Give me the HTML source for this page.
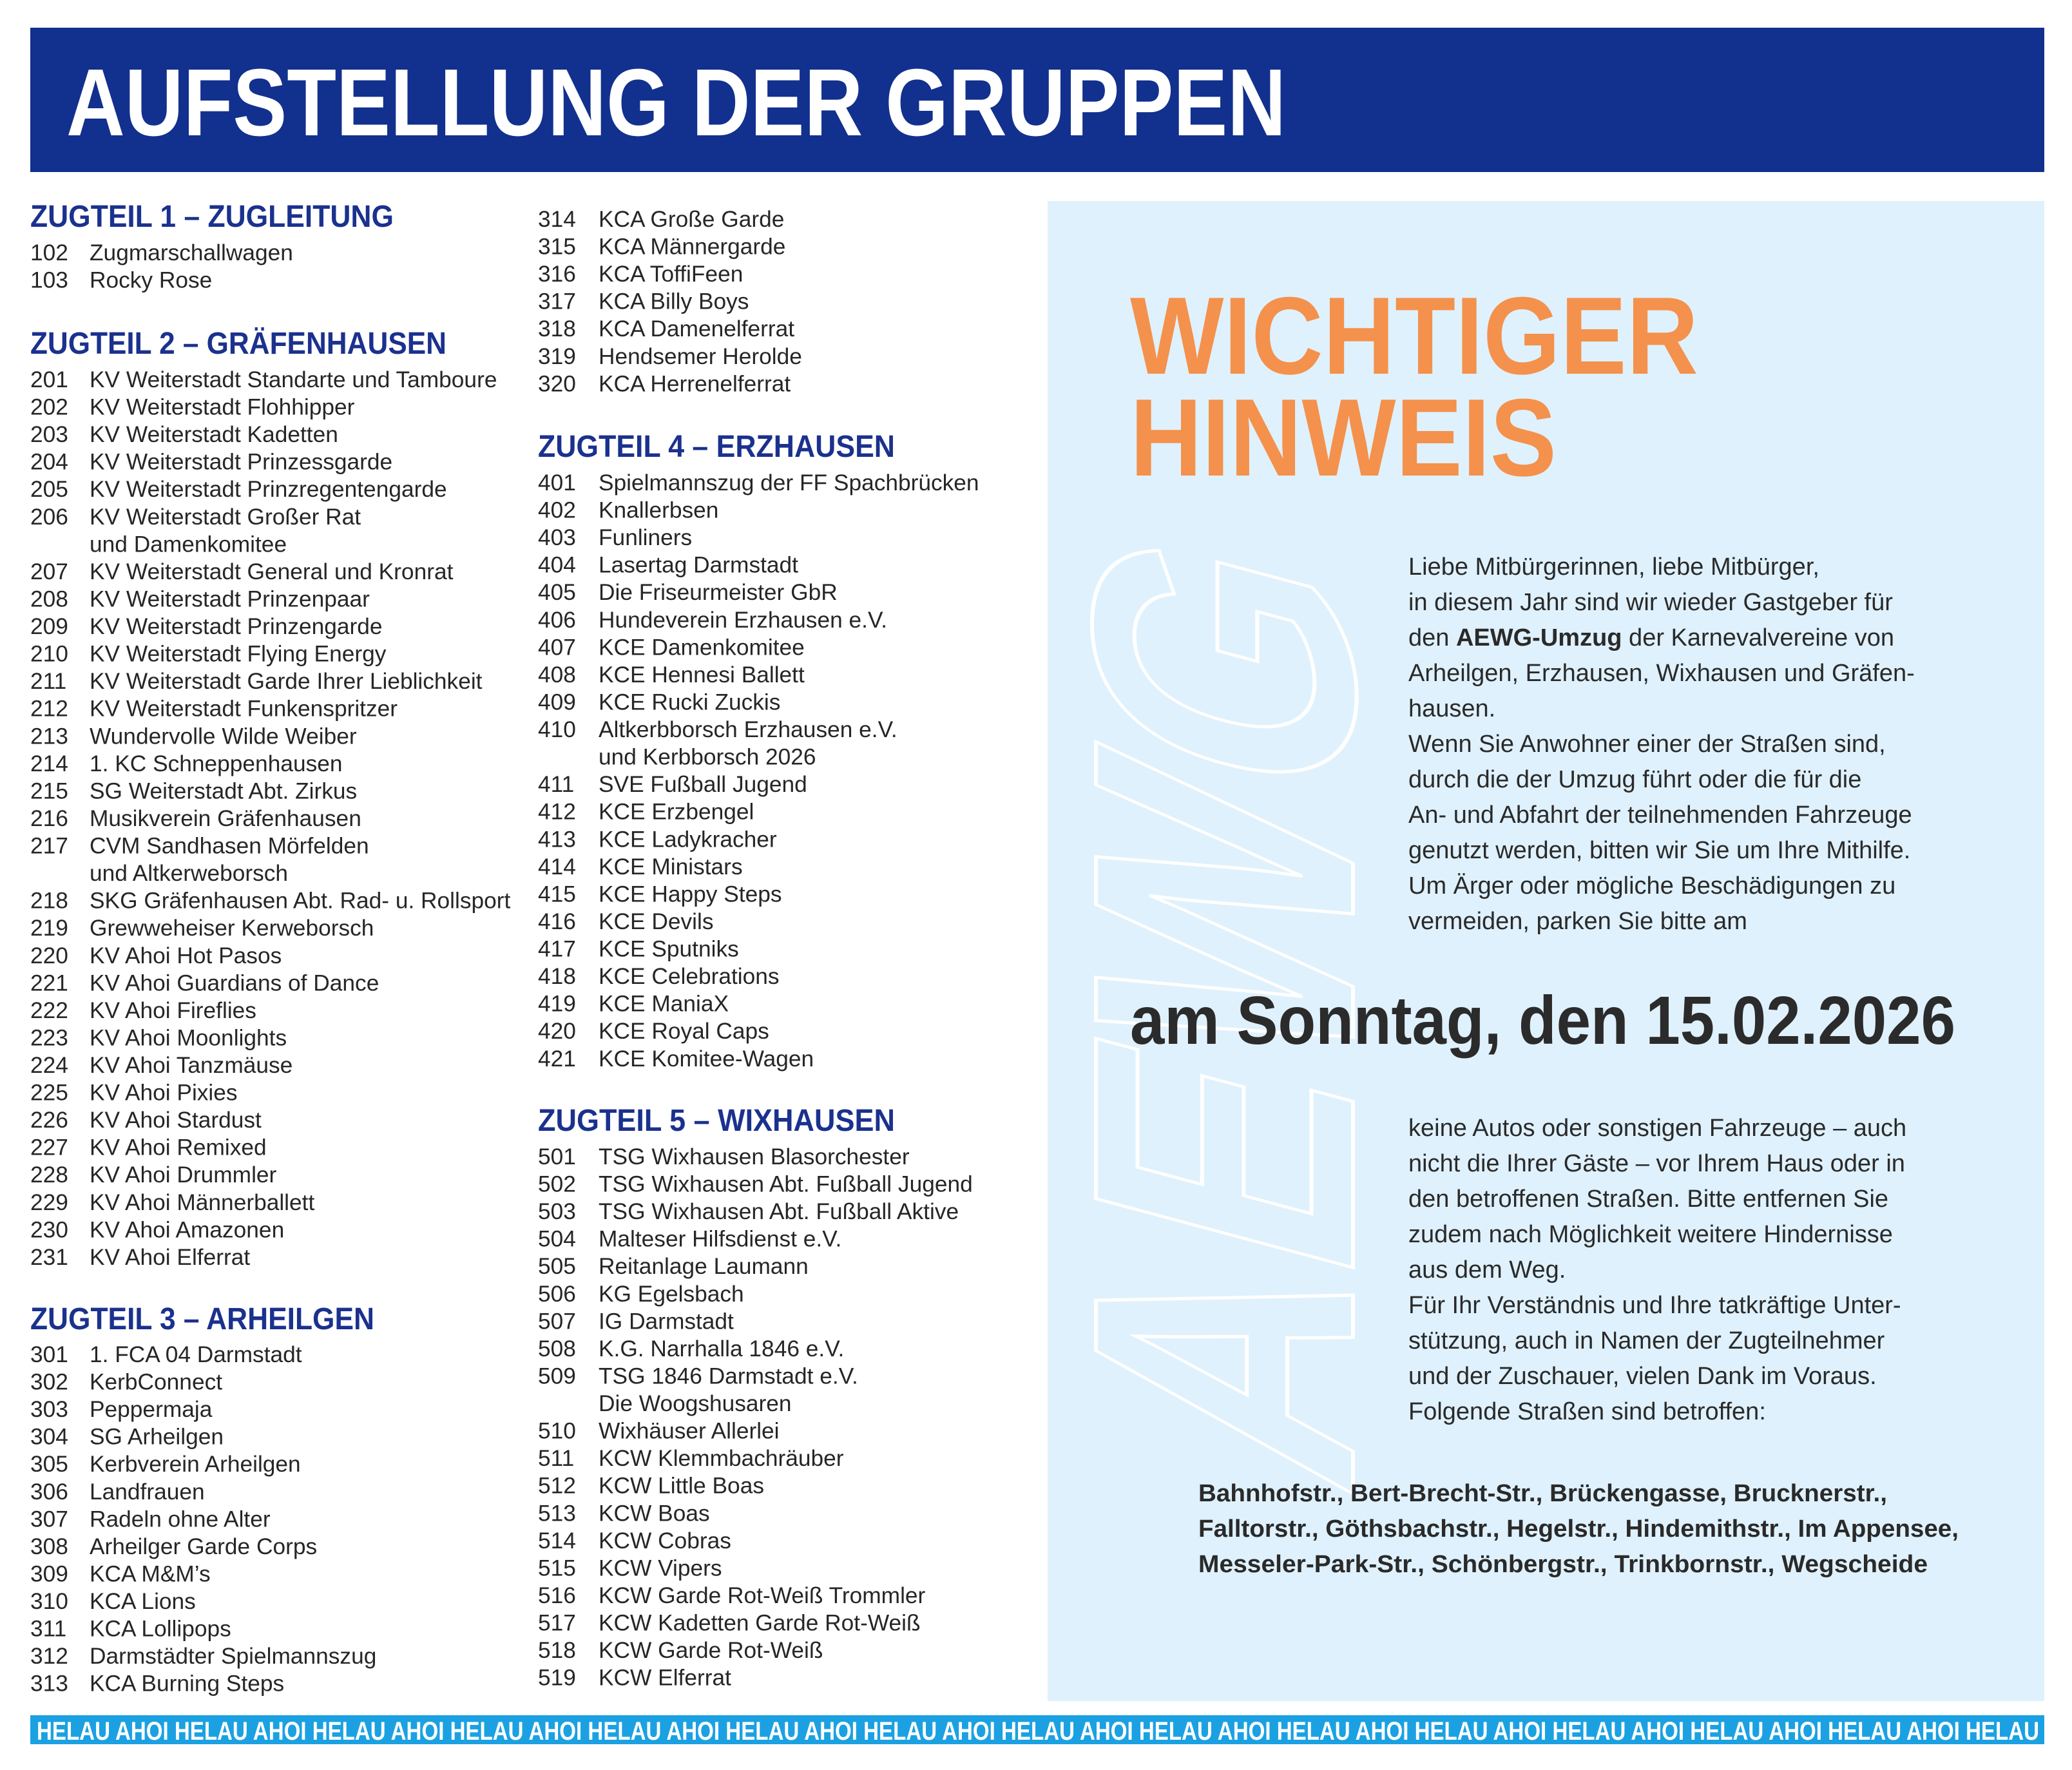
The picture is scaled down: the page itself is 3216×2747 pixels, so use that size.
<!DOCTYPE html>
<html><head><meta charset="utf-8"><style>
html,body{margin:0;padding:0;background:#fff}
svg{display:block}
.n{font-family:"Liberation Sans",sans-serif;font-size:35.3px;fill:#262626}
.h{font-family:"Liberation Sans",sans-serif;font-size:48px;font-weight:bold;fill:#1b318e}
.p{font-family:"Liberation Sans",sans-serif;font-size:38px;fill:#2a2a2a}
</style></head><body>
<svg width="3216" height="2747" viewBox="0 0 3216 2747" xmlns="http://www.w3.org/2000/svg">
<rect width="3216" height="2747" fill="#fff"/>
<rect x="47" y="43" width="3126" height="224" fill="#12308e"/>
<text x="103" y="210" font-family="Liberation Sans,sans-serif" font-weight="bold" font-size="148" fill="#fff" textLength="1893" lengthAdjust="spacingAndGlyphs">AUFSTELLUNG DER GRUPPEN</text>

<!-- Right panel -->
<rect x="1626" y="312" width="1547" height="2328" fill="#dff1fc"/>
<g transform="translate(1895,1560) rotate(-90) skewX(-15)">
<text x="0" y="0" text-anchor="middle" font-family="Liberation Sans,sans-serif" font-weight="bold" font-size="580" fill="none" stroke="#fff" stroke-width="6" textLength="1430" lengthAdjust="spacingAndGlyphs" dy="205">AEWG</text>
</g>
<text x="1754" y="580" font-family="Liberation Sans,sans-serif" font-weight="bold" font-size="171" fill="#f4914c" textLength="882" lengthAdjust="spacingAndGlyphs">WICHTIGER</text>
<text x="1754" y="738" font-family="Liberation Sans,sans-serif" font-weight="bold" font-size="171" fill="#f4914c" textLength="662" lengthAdjust="spacingAndGlyphs">HINWEIS</text>

<text class="p" x="2186" y="892">
<tspan x="2186">Liebe Mitbürgerinnen, liebe Mitbürger,</tspan>
<tspan x="2186" dy="55">in diesem Jahr sind wir wieder Gastgeber für</tspan>
<tspan x="2186" dy="55">den <tspan font-weight="bold">AEWG-Umzug</tspan> der Karnevalvereine von</tspan>
<tspan x="2186" dy="55">Arheilgen, Erzhausen, Wixhausen und Gräfen-</tspan>
<tspan x="2186" dy="55">hausen.</tspan>
<tspan x="2186" dy="55">Wenn Sie Anwohner einer der Straßen sind,</tspan>
<tspan x="2186" dy="55">durch die der Umzug führt oder die für die</tspan>
<tspan x="2186" dy="55">An- und Abfahrt der teilnehmenden Fahrzeuge</tspan>
<tspan x="2186" dy="55">genutzt werden, bitten wir Sie um Ihre Mithilfe.</tspan>
<tspan x="2186" dy="55">Um Ärger oder mögliche Beschädigungen zu</tspan>
<tspan x="2186" dy="55">vermeiden, parken Sie bitte am</tspan>
</text>
<text x="1754" y="1620" font-family="Liberation Sans,sans-serif" font-weight="bold" font-size="106" fill="#2b2b2b" textLength="1281" lengthAdjust="spacingAndGlyphs">am Sonntag, den 15.02.2026</text>
<text class="p" x="2186" y="1763">
<tspan x="2186">keine Autos oder sonstigen Fahrzeuge – auch</tspan>
<tspan x="2186" dy="55">nicht die Ihrer Gäste – vor Ihrem Haus oder in</tspan>
<tspan x="2186" dy="55">den betroffenen Straßen. Bitte entfernen Sie</tspan>
<tspan x="2186" dy="55">zudem nach Möglichkeit weitere Hindernisse</tspan>
<tspan x="2186" dy="55">aus dem Weg.</tspan>
<tspan x="2186" dy="55">Für Ihr Verständnis und Ihre tatkräftige Unter-</tspan>
<tspan x="2186" dy="55">stützung, auch in Namen der Zugteilnehmer</tspan>
<tspan x="2186" dy="55">und der Zuschauer, vielen Dank im Voraus.</tspan>
<tspan x="2186" dy="55">Folgende Straßen sind betroffen:</tspan>
</text>
<text class="p" font-weight="bold" x="1860" y="2330" textLength="1069" lengthAdjust="spacingAndGlyphs">Bahnhofstr., Bert-Brecht-Str., Brückengasse, Brucknerstr.,</text>
<text class="p" font-weight="bold" x="1860" y="2385" textLength="1180" lengthAdjust="spacingAndGlyphs">Falltorstr., Göthsbachstr., Hegelstr., Hindemithstr., Im Appensee,</text>
<text class="p" font-weight="bold" x="1860" y="2440" textLength="1132" lengthAdjust="spacingAndGlyphs">Messeler-Park-Str., Schönbergstr., Trinkbornstr., Wegscheide</text>

<!-- Column 1 -->
<text class="h" x="47" y="352" textLength="564" lengthAdjust="spacingAndGlyphs">ZUGTEIL 1 – ZUGLEITUNG</text>
<text class="n" x="47" y="404"><tspan x="47">102</tspan><tspan x="47" dy="42.56">103</tspan></text>
<text class="n" x="139" y="404"><tspan x="139">Zugmarschallwagen</tspan><tspan x="139" dy="42.56">Rocky Rose</tspan></text>

<text class="h" x="47" y="549" textLength="646" lengthAdjust="spacingAndGlyphs">ZUGTEIL 2 – GRÄFENHAUSEN</text>
<text class="n" x="47" y="601">
<tspan x="47">201</tspan><tspan x="47" dy="42.56">202</tspan><tspan x="47" dy="42.56">203</tspan><tspan x="47" dy="42.56">204</tspan><tspan x="47" dy="42.56">205</tspan><tspan x="47" dy="42.56">206</tspan>
<tspan x="47" dy="85.12">207</tspan><tspan x="47" dy="42.56">208</tspan><tspan x="47" dy="42.56">209</tspan><tspan x="47" dy="42.56">210</tspan><tspan x="47" dy="42.56">211</tspan><tspan x="47" dy="42.56">212</tspan><tspan x="47" dy="42.56">213</tspan><tspan x="47" dy="42.56">214</tspan><tspan x="47" dy="42.56">215</tspan><tspan x="47" dy="42.56">216</tspan><tspan x="47" dy="42.56">217</tspan>
<tspan x="47" dy="85.12">218</tspan><tspan x="47" dy="42.56">219</tspan><tspan x="47" dy="42.56">220</tspan><tspan x="47" dy="42.56">221</tspan><tspan x="47" dy="42.56">222</tspan><tspan x="47" dy="42.56">223</tspan><tspan x="47" dy="42.56">224</tspan><tspan x="47" dy="42.56">225</tspan><tspan x="47" dy="42.56">226</tspan><tspan x="47" dy="42.56">227</tspan><tspan x="47" dy="42.56">228</tspan><tspan x="47" dy="42.56">229</tspan><tspan x="47" dy="42.56">230</tspan><tspan x="47" dy="42.56">231</tspan>
</text>
<text class="n" x="139" y="601">
<tspan x="139">KV Weiterstadt Standarte und Tamboure</tspan>
<tspan x="139" dy="42.56">KV Weiterstadt Flohhipper</tspan>
<tspan x="139" dy="42.56">KV Weiterstadt Kadetten</tspan>
<tspan x="139" dy="42.56">KV Weiterstadt Prinzessgarde</tspan>
<tspan x="139" dy="42.56">KV Weiterstadt Prinzregentengarde</tspan>
<tspan x="139" dy="42.56">KV Weiterstadt Großer Rat</tspan>
<tspan x="139" dy="42.56">und Damenkomitee</tspan>
<tspan x="139" dy="42.56">KV Weiterstadt General und Kronrat</tspan>
<tspan x="139" dy="42.56">KV Weiterstadt Prinzenpaar</tspan>
<tspan x="139" dy="42.56">KV Weiterstadt Prinzengarde</tspan>
<tspan x="139" dy="42.56">KV Weiterstadt Flying Energy</tspan>
<tspan x="139" dy="42.56">KV Weiterstadt Garde Ihrer Lieblichkeit</tspan>
<tspan x="139" dy="42.56">KV Weiterstadt Funkenspritzer</tspan>
<tspan x="139" dy="42.56">Wundervolle Wilde Weiber</tspan>
<tspan x="139" dy="42.56">1. KC Schneppenhausen</tspan>
<tspan x="139" dy="42.56">SG Weiterstadt Abt. Zirkus</tspan>
<tspan x="139" dy="42.56">Musikverein Gräfenhausen</tspan>
<tspan x="139" dy="42.56">CVM Sandhasen Mörfelden</tspan>
<tspan x="139" dy="42.56">und Altkerweborsch</tspan>
<tspan x="139" dy="42.56">SKG Gräfenhausen Abt. Rad- u. Rollsport</tspan>
<tspan x="139" dy="42.56">Grewweheiser Kerweborsch</tspan>
<tspan x="139" dy="42.56">KV Ahoi Hot Pasos</tspan>
<tspan x="139" dy="42.56">KV Ahoi Guardians of Dance</tspan>
<tspan x="139" dy="42.56">KV Ahoi Fireflies</tspan>
<tspan x="139" dy="42.56">KV Ahoi Moonlights</tspan>
<tspan x="139" dy="42.56">KV Ahoi Tanzmäuse</tspan>
<tspan x="139" dy="42.56">KV Ahoi Pixies</tspan>
<tspan x="139" dy="42.56">KV Ahoi Stardust</tspan>
<tspan x="139" dy="42.56">KV Ahoi Remixed</tspan>
<tspan x="139" dy="42.56">KV Ahoi Drummler</tspan>
<tspan x="139" dy="42.56">KV Ahoi Männerballett</tspan>
<tspan x="139" dy="42.56">KV Ahoi Amazonen</tspan>
<tspan x="139" dy="42.56">KV Ahoi Elferrat</tspan>
</text>

<text class="h" x="47" y="2063" textLength="534" lengthAdjust="spacingAndGlyphs">ZUGTEIL 3 – ARHEILGEN</text>
<text class="n" x="47" y="2114">
<tspan x="47">301</tspan><tspan x="47" dy="42.56">302</tspan><tspan x="47" dy="42.56">303</tspan><tspan x="47" dy="42.56">304</tspan><tspan x="47" dy="42.56">305</tspan><tspan x="47" dy="42.56">306</tspan><tspan x="47" dy="42.56">307</tspan><tspan x="47" dy="42.56">308</tspan><tspan x="47" dy="42.56">309</tspan><tspan x="47" dy="42.56">310</tspan><tspan x="47" dy="42.56">311</tspan><tspan x="47" dy="42.56">312</tspan><tspan x="47" dy="42.56">313</tspan>
</text>
<text class="n" x="139" y="2114">
<tspan x="139">1. FCA 04 Darmstadt</tspan>
<tspan x="139" dy="42.56">KerbConnect</tspan>
<tspan x="139" dy="42.56">Peppermaja</tspan>
<tspan x="139" dy="42.56">SG Arheilgen</tspan>
<tspan x="139" dy="42.56">Kerbverein Arheilgen</tspan>
<tspan x="139" dy="42.56">Landfrauen</tspan>
<tspan x="139" dy="42.56">Radeln ohne Alter</tspan>
<tspan x="139" dy="42.56">Arheilger Garde Corps</tspan>
<tspan x="139" dy="42.56">KCA M&amp;M’s</tspan>
<tspan x="139" dy="42.56">KCA Lions</tspan>
<tspan x="139" dy="42.56">KCA Lollipops</tspan>
<tspan x="139" dy="42.56">Darmstädter Spielmannszug</tspan>
<tspan x="139" dy="42.56">KCA Burning Steps</tspan>
</text>

<!-- Column 2 -->
<text class="n" x="835" y="352">
<tspan x="835">314</tspan><tspan x="835" dy="42.56">315</tspan><tspan x="835" dy="42.56">316</tspan><tspan x="835" dy="42.56">317</tspan><tspan x="835" dy="42.56">318</tspan><tspan x="835" dy="42.56">319</tspan><tspan x="835" dy="42.56">320</tspan>
</text>
<text class="n" x="929" y="352">
<tspan x="929">KCA Große Garde</tspan>
<tspan x="929" dy="42.56">KCA Männergarde</tspan>
<tspan x="929" dy="42.56">KCA ToffiFeen</tspan>
<tspan x="929" dy="42.56">KCA Billy Boys</tspan>
<tspan x="929" dy="42.56">KCA Damenelferrat</tspan>
<tspan x="929" dy="42.56">Hendsemer Herolde</tspan>
<tspan x="929" dy="42.56">KCA Herrenelferrat</tspan>
</text>

<text class="h" x="835" y="709" textLength="554" lengthAdjust="spacingAndGlyphs">ZUGTEIL 4 – ERZHAUSEN</text>
<text class="n" x="835" y="761">
<tspan x="835">401</tspan><tspan x="835" dy="42.56">402</tspan><tspan x="835" dy="42.56">403</tspan><tspan x="835" dy="42.56">404</tspan><tspan x="835" dy="42.56">405</tspan><tspan x="835" dy="42.56">406</tspan><tspan x="835" dy="42.56">407</tspan><tspan x="835" dy="42.56">408</tspan><tspan x="835" dy="42.56">409</tspan><tspan x="835" dy="42.56">410</tspan>
<tspan x="835" dy="85.12">411</tspan><tspan x="835" dy="42.56">412</tspan><tspan x="835" dy="42.56">413</tspan><tspan x="835" dy="42.56">414</tspan><tspan x="835" dy="42.56">415</tspan><tspan x="835" dy="42.56">416</tspan><tspan x="835" dy="42.56">417</tspan><tspan x="835" dy="42.56">418</tspan><tspan x="835" dy="42.56">419</tspan><tspan x="835" dy="42.56">420</tspan><tspan x="835" dy="42.56">421</tspan>
</text>
<text class="n" x="929" y="761">
<tspan x="929">Spielmannszug der FF Spachbrücken</tspan>
<tspan x="929" dy="42.56">Knallerbsen</tspan>
<tspan x="929" dy="42.56">Funliners</tspan>
<tspan x="929" dy="42.56">Lasertag Darmstadt</tspan>
<tspan x="929" dy="42.56">Die Friseurmeister GbR</tspan>
<tspan x="929" dy="42.56">Hundeverein Erzhausen e.V.</tspan>
<tspan x="929" dy="42.56">KCE Damenkomitee</tspan>
<tspan x="929" dy="42.56">KCE Hennesi Ballett</tspan>
<tspan x="929" dy="42.56">KCE Rucki Zuckis</tspan>
<tspan x="929" dy="42.56">Altkerbborsch Erzhausen e.V.</tspan>
<tspan x="929" dy="42.56">und Kerbborsch 2026</tspan>
<tspan x="929" dy="42.56">SVE Fußball Jugend</tspan>
<tspan x="929" dy="42.56">KCE Erzbengel</tspan>
<tspan x="929" dy="42.56">KCE Ladykracher</tspan>
<tspan x="929" dy="42.56">KCE Ministars</tspan>
<tspan x="929" dy="42.56">KCE Happy Steps</tspan>
<tspan x="929" dy="42.56">KCE Devils</tspan>
<tspan x="929" dy="42.56">KCE Sputniks</tspan>
<tspan x="929" dy="42.56">KCE Celebrations</tspan>
<tspan x="929" dy="42.56">KCE ManiaX</tspan>
<tspan x="929" dy="42.56">KCE Royal Caps</tspan>
<tspan x="929" dy="42.56">KCE Komitee-Wagen</tspan>
</text>

<text class="h" x="835" y="1755" textLength="554" lengthAdjust="spacingAndGlyphs">ZUGTEIL 5 – WIXHAUSEN</text>
<text class="n" x="835" y="1807">
<tspan x="835">501</tspan><tspan x="835" dy="42.56">502</tspan><tspan x="835" dy="42.56">503</tspan><tspan x="835" dy="42.56">504</tspan><tspan x="835" dy="42.56">505</tspan><tspan x="835" dy="42.56">506</tspan><tspan x="835" dy="42.56">507</tspan><tspan x="835" dy="42.56">508</tspan><tspan x="835" dy="42.56">509</tspan>
<tspan x="835" dy="85.12">510</tspan><tspan x="835" dy="42.56">511</tspan><tspan x="835" dy="42.56">512</tspan><tspan x="835" dy="42.56">513</tspan><tspan x="835" dy="42.56">514</tspan><tspan x="835" dy="42.56">515</tspan><tspan x="835" dy="42.56">516</tspan><tspan x="835" dy="42.56">517</tspan><tspan x="835" dy="42.56">518</tspan><tspan x="835" dy="42.56">519</tspan>
</text>
<text class="n" x="929" y="1807">
<tspan x="929">TSG Wixhausen Blasorchester</tspan>
<tspan x="929" dy="42.56">TSG Wixhausen Abt. Fußball Jugend</tspan>
<tspan x="929" dy="42.56">TSG Wixhausen Abt. Fußball Aktive</tspan>
<tspan x="929" dy="42.56">Malteser Hilfsdienst e.V.</tspan>
<tspan x="929" dy="42.56">Reitanlage Laumann</tspan>
<tspan x="929" dy="42.56">KG Egelsbach</tspan>
<tspan x="929" dy="42.56">IG Darmstadt</tspan>
<tspan x="929" dy="42.56">K.G. Narrhalla 1846 e.V.</tspan>
<tspan x="929" dy="42.56">TSG 1846 Darmstadt e.V.</tspan>
<tspan x="929" dy="42.56">Die Woogshusaren</tspan>
<tspan x="929" dy="42.56">Wixhäuser Allerlei</tspan>
<tspan x="929" dy="42.56">KCW Klemmbachräuber</tspan>
<tspan x="929" dy="42.56">KCW Little Boas</tspan>
<tspan x="929" dy="42.56">KCW Boas</tspan>
<tspan x="929" dy="42.56">KCW Cobras</tspan>
<tspan x="929" dy="42.56">KCW Vipers</tspan>
<tspan x="929" dy="42.56">KCW Garde Rot-Weiß Trommler</tspan>
<tspan x="929" dy="42.56">KCW Kadetten Garde Rot-Weiß</tspan>
<tspan x="929" dy="42.56">KCW Garde Rot-Weiß</tspan>
<tspan x="929" dy="42.56">KCW Elferrat</tspan>
</text>

<!-- Bottom strip -->
<rect x="47" y="2662" width="3126" height="45" fill="#1ba1e2"/>
<text x="57" y="2700" font-family="Liberation Sans,sans-serif" font-weight="bold" font-size="40" fill="#fff" textLength="3108" lengthAdjust="spacingAndGlyphs">HELAU AHOI HELAU AHOI HELAU AHOI HELAU AHOI HELAU AHOI HELAU AHOI HELAU AHOI HELAU AHOI HELAU AHOI HELAU AHOI HELAU AHOI HELAU AHOI HELAU AHOI HELAU AHOI HELAU</text>
</svg>
</body></html>
